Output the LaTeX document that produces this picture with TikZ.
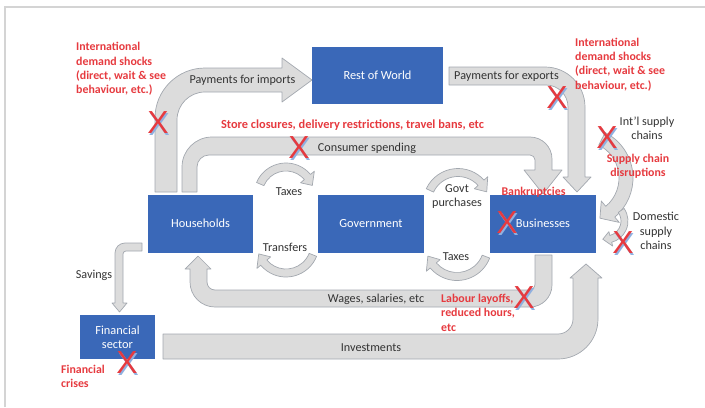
\documentclass[tikz,border=0pt]{standalone}
\usepackage{fontspec}
\setmainfont{Carlito}
\newfontfamily\xfont{Liberation Sans}
\definecolor{boxblue}{HTML}{3A68B8}
\definecolor{arrfill}{HTML}{DCDCDC}
\definecolor{arrline}{HTML}{A3A8AF}
\definecolor{redtxt}{HTML}{E63A3F}
\definecolor{txtgrey}{HTML}{333333}
\definecolor{xshadow}{HTML}{8FB0E0}
\definecolor{framegrey}{HTML}{D4D4D4}
\newcommand{\curvarr}[8]{%
  \path[fatarrow,shift={(#1,#2)}] (#5:#4) arc[start angle=#5,end angle=#6,radius=#4]
    -- (#6:{#4+#8}) -- (#7:{(#3+#4)/2}) -- (#6:{#3-#8}) -- (#6:#3)
    arc[start angle=#6,end angle=#5,radius=#3] -- cycle;}
\newcommand{\redx}[3]{%
  \node[xmark,text=xshadow] (#1s) at (#2+1.3,#3-1.3) {X};
  \node[xmark] (#1) at (#2,#3) {X};}
\begin{document}
\begin{tikzpicture}[x=1bp,y=1bp,
  sector/.style={fill=boxblue,text=white,inner sep=0pt,align=center,
    font=\fontsize{12.4}{14.5}\selectfont},
  fatarrow/.style={fill=arrfill,draw=arrline,line width=0.7bp,line join=round},
  lbl/.style={text=txtgrey,inner sep=0pt,align=center,font=\fontsize{12.2}{14.5}\selectfont},
  redlbl/.style={text=redtxt,inner sep=0pt,align=left,font=\bfseries\fontsize{11.9}{14.5}\selectfont},
  xmark/.style={text=redtxt,inner sep=0pt,font=\xfont\fontsize{32}{32}\selectfont}]
\useasboundingbox (0,0) rectangle (705,407);
\draw[framegrey,line width=1.2bp] (5,0) -- (5,400) -- (705,400);

% block arrows
\path[fatarrow] (155,215) -- (155,289) arc[start angle=180,end angle=90,radius=50]
  -- (282,339) -- (282,349) -- (312,327) -- (282,305) -- (282,315) -- (205,315)
  arc[start angle=90,end angle=180,radius=28] -- (177,215) -- cycle;
\path[fatarrow] (182,215) -- (182,240) arc[start angle=180,end angle=90,radius=30]
  -- (530,270) arc[start angle=90,end angle=0,radius=22] -- (552,237) -- (562,237)
  -- (543,213) -- (524,237) -- (535,237) -- (535,247) arc[start angle=0,end angle=90,radius=5]
  -- (209,252) arc[start angle=90,end angle=180,radius=12] -- (197,215) -- cycle;
\path[fatarrow] (449,340) -- (545,340) arc[start angle=90,end angle=0,radius=40]
  -- (585,230) -- (591,230) -- (577,215) -- (563,230) -- (568,230) -- (568,300)
  arc[start angle=0,end angle=90,radius=22] -- (449,322) -- cycle;
\path[fatarrow] (535,152) -- (552,152) -- (552,122) arc[start angle=0,end angle=-90,radius=22]
  -- (215,100) arc[start angle=270,end angle=180,radius=25] -- (190,138) -- (185,138)
  -- (198,151) -- (211,138) -- (207,138) -- (207,125) arc[start angle=180,end angle=270,radius=8]
  -- (529,117) arc[start angle=270,end angle=360,radius=6] -- cycle;
\path[fatarrow] (163,48) -- (558,48) arc[start angle=270,end angle=360,radius=40]
  -- (598,129) -- (602,129) -- (586,143) -- (570,129) -- (573,129) -- (573,88)
  arc[start angle=0,end angle=-90,radius=15] -- (163,73) -- cycle;
\path[fatarrow] (142,164) -- (125,164) arc[start angle=90,end angle=180,radius=10]
  -- (115,104) -- (112,104) -- (119.5,95) -- (127,104) -- (123,104) -- (123,153)
  arc[start angle=180,end angle=90,radius=3] -- (142,156) -- cycle;

% curved arrows
\curvarr{286}{212}{24}{32}{157}{40}{20}{5}
\curvarr{286}{163}{25}{33}{-22}{-140}{-160}{5}
\curvarr{458}{203.5}{27}{35}{155}{42}{22}{5}
\curvarr{457}{161.5}{27}{35}{-21}{-140}{-160}{5}
\curvarr{582}{229}{37}{51}{63}{-50}{-66}{7}
\curvarr{606}{186}{15}{22}{35}{-75}{-100}{4}

% sectors
\node[sector,minimum width=131bp,minimum height=57bp] (row) at (377.5,331.5) {Rest of World};
\node[sector,minimum width=105bp,minimum height=58bp] (hh) at (200.5,183.5) {Households};
\node[sector,minimum width=106bp,minimum height=58bp] (gov) at (371,183.5) {Government};
\node[sector,minimum width=106bp,minimum height=58bp] (bus) at (543,183.5) {Businesses};
\node[sector,minimum width=75bp,minimum height=44bp] (fin) at (117.5,70) {Financial\\sector};

% flow labels
\node[lbl] (pimp) at (242.5,327) {Payments for imports};
\node[lbl] (pexp) at (506.5,331) {Payments for exports};
\node[lbl] (cons) at (367,259) {Consumer spending};
\node[lbl] (tax1) at (289,215) {Taxes};
\node[lbl] (trans) at (285,160) {Transfers};
\node[lbl] (govp) at (457,210.5) {Govt\\purchases};
\node[lbl] (tax2) at (456,150) {Taxes};
\node[lbl] (wages) at (376,108) {Wages, salaries, etc};
\node[lbl] (inv) at (371,59) {Investments};
\node[lbl] (sav) at (94,132) {Savings};
\node[lbl] (intl) at (647,279) {Int’l supply\\chains};
\node[lbl] (dom) at (656,176) {Domestic\\supply\\chains};

% shock labels
\node[redlbl,anchor=west] (shockL) at (76,338) {International\\demand shocks\\(direct, wait \& see\\behaviour, etc.)};
\node[redlbl,anchor=west] (shockR) at (575,342.5) {International\\demand shocks\\(direct, wait \& see\\behaviour, etc.)};
\node[redlbl,align=center,font=\bfseries\fontsize{12.4}{14.5}\selectfont] (store) at (352.5,282) {Store closures, delivery restrictions, travel bans, etc};
\node[redlbl,align=center] (supd) at (638,241) {Supply chain\\disruptions};
\node[redlbl] (bank) at (533.5,215) {Bankruptcies};
\node[redlbl,anchor=west] (lab) at (441,94.5) {Labour layoffs,\\reduced hours,\\etc};
\node[redlbl,anchor=west] (fcr) at (61,30.5) {Financial\\crises};

% crosses
\redx{x1}{158}{284}
\redx{x2}{299}{259}
\redx{x3}{557}{309}
\redx{x4}{607}{269}
\redx{x5}{507}{184}
\redx{x6}{623}{164}
\redx{x7}{524}{109}
\redx{x8}{127}{44}
\end{tikzpicture}
\end{document}
